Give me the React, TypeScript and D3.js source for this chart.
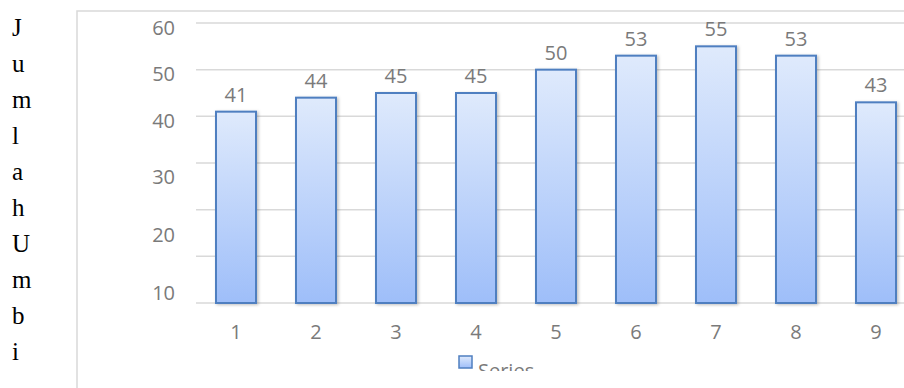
import React from "react";
import * as d3 from "d3";

// Harvest counts per plot
const categories = ["1", "2", "3", "4", "5", "6", "7", "8", "9"];
const values = [41, 44, 45, 45, 50, 53, 55, 53, 43];
const gridValues = [0, 10, 20, 30, 40, 50, 60];
const tickLabels = [60, 50, 40, 30, 20, 10];
const seriesName = "Series";
const axisTitle = "Jumlah Umbi";

const W = 904;
const H = 388;

export default function App() {
  const x = d3.scaleBand<string>().domain(categories).range([196, 916]).paddingInner(0.5).paddingOuter(0.25);
  const y = d3.scaleLinear().domain([0, 60]).range([303, 23]);
  // tick text sits on its own (uneven) track beside the grid
  const yLabel = d3.scaleLinear().domain([10, 30, 40, 60]).range([292, 176, 120, 27]);

  const letters = axisTitle.replace(/\s+/g, "").split("");
  const gray = "#7a7a7a";
  const font = "'Open Sans', 'Noto Sans', sans-serif";

  return (
    <svg width={W} height={H} style={{ position: "absolute", left: 0, top: 0, background: "#fff" }}>
      <defs>
        <linearGradient id="barFill" x1="0" y1="0" x2="0" y2="1">
          <stop offset="0%" stopColor="#dfeafc" />
          <stop offset="100%" stopColor="#9ebef9" />
        </linearGradient>
        <filter id="barShadow" x="-20%" y="-20%" width="140%" height="140%">
          <feDropShadow dx="1.5" dy="1" stdDeviation="1.4" floodColor="#000" floodOpacity="0.25" />
        </filter>
        <clipPath id="legendClip">
          <rect x={0} y={0} width={W} height={371} />
        </clipPath>
      </defs>

      {/* vertical axis title, one letter per line */}
      {letters.map((ch, i) => (
        <text key={i} x={12} y={36 + i * 36} fontFamily="'Liberation Serif', 'Times New Roman', serif" fontSize={25} fill="#000">
          {ch}
        </text>
      ))}

      {/* chart frame */}
      <rect x={77} y={11} width={W} height={H} fill="none" stroke="#d9d9d9" strokeWidth={1.5} />

      {/* gridlines */}
      {gridValues.map((v) => (
        <line key={v} x1={196} x2={W} y1={y(v)} y2={y(v)} stroke="#d9d9d9" strokeWidth={1.5} />
      ))}

      {/* y tick labels */}
      {tickLabels.map((v) => (
        <text key={v} x={175} y={yLabel(v)} textAnchor="end" dominantBaseline="central" fontFamily={font} fontSize={20} fill={gray}>
          {v}
        </text>
      ))}

      {/* bars */}
      {values.map((v, i) => (
        <rect
          key={i}
          x={x(categories[i])!}
          y={y(v)}
          width={x.bandwidth()}
          height={y(0) - y(v)}
          fill="url(#barFill)"
          stroke="#4f7fc0"
          strokeWidth={2}
          filter="url(#barShadow)"
        />
      ))}

      {/* value labels */}
      {values.map((v, i) => (
        <text key={i} x={x(categories[i])! + x.bandwidth() / 2} y={y(v) - 10} textAnchor="middle" fontFamily={font} fontSize={20} fill={gray}>
          {v}
        </text>
      ))}

      {/* category labels */}
      {categories.map((c) => (
        <text key={c} x={x(c)! + x.bandwidth() / 2} y={339} textAnchor="middle" fontFamily={font} fontSize={20} fill={gray}>
          {c}
        </text>
      ))}

      {/* legend */}
      <g clipPath="url(#legendClip)">
        <rect x={459} y={356} width={13} height={12} fill="url(#barFill)" stroke="#4f7fc0" strokeWidth={1.5} />
        <text x={478} y={378} fontFamily={font} fontSize={20} fill={gray}>
          {seriesName}
        </text>
      </g>
    </svg>
  );
}
